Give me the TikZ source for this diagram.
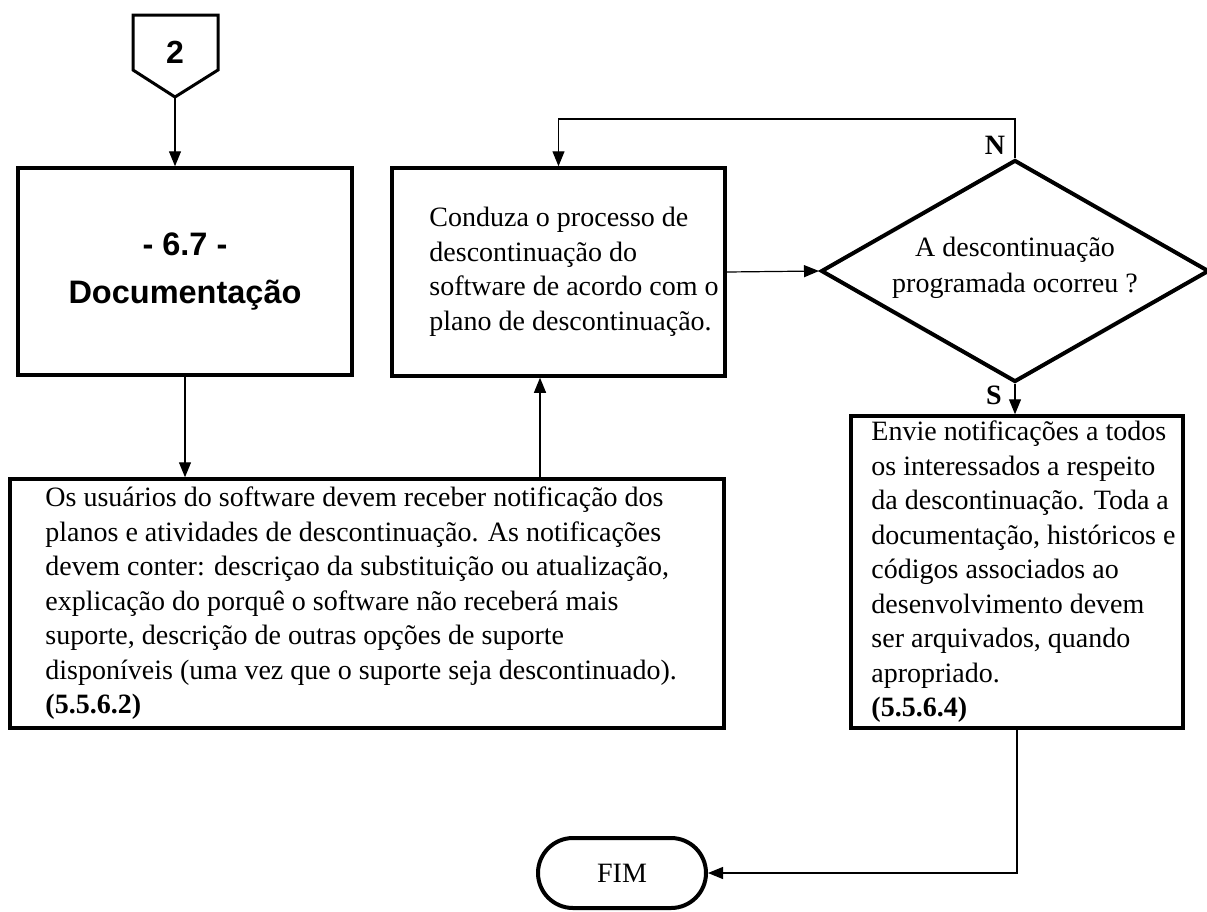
\documentclass[tikz,border=0pt]{standalone}
\usepackage{fontspec}
\setmainfont{Liberation Serif}
\newfontfamily\arialfont{Liberation Sans}
\usetikzlibrary{arrows.meta,shapes.geometric,calc}

\tikzset{
  box/.style={draw, line width=3.5pt, rectangle, inner sep=0pt},
  body/.style={inner sep=0pt, align=left, font=\fontsize{28}{34.5}\selectfont},
  lbl/.style={inner sep=0pt, font=\fontsize{28}{33}\selectfont\bfseries},
  conn/.style={line width=1.2pt, -{Triangle[length=15pt,width=12pt]}},
  decision/.style={draw, diamond, line width=4pt, inner sep=0pt, minimum width=388pt, minimum height=222pt},
  terminal/.style={draw, line width=4pt, rectangle, rounded corners=35pt, minimum width=168pt, minimum height=70pt, inner sep=0pt, font=\fontsize{28}{33}\selectfont}
}

\begin{document}
\begin{tikzpicture}[x=1pt,y=-1pt]
\useasboundingbox (0,0) rectangle (1207,911);

% off-page connector "2"
\coordinate (ptip) at (175,97);
\draw[line width=3pt, line join=miter] (133,15) -- (218,15) -- (218,70) -- (ptip) -- (133,70) -- cycle;
\node[inner sep=0pt, font=\arialfont\fontsize{32}{36}\selectfont\bfseries] (two) at (175,52) {2};

% process boxes
\node[box, minimum width=334pt, minimum height=207pt] (doc) at (185,271.5) {};
\node[inner sep=0pt, align=center, font=\arialfont\fontsize{32.5}{48}\selectfont\bfseries] (docT) at (doc.center) {- 6.7 -\\Documentação};

\node[box, minimum width=333pt, minimum height=208pt] (conduza) at (558.5,272) {};
\node[body, anchor=west] (conduzaT) at ([xshift=39pt]conduza.west) {Conduza o processo de\\descontinuação do\\software de acordo com o\\plano de descontinuação.};

\node[box, minimum width=714pt, minimum height=249pt] (users) at (367,603.5) {};
\node[body, anchor=west] (usersT) at ([xshift=37pt]users.west) {Os usuários do software devem receber notificação dos\\planos e atividades de descontinuação. As notificações\\devem conter: descriçao da substituição ou atualização,\\explicação do porquê o software não receberá mais\\suporte, descrição de outras opções de suporte\\disponíveis (uma vez que o suporte seja descontinuado).\\\textbf{(5.5.6.2)}};

\node[box, minimum width=332pt, minimum height=312pt] (notify) at (1017,572) {};
\node[body, anchor=west] (notifyT) at ([xshift=22pt]notify.west) {Envie notificações a todos\\os interessados a respeito\\da descontinuação. Toda a\\documentação, históricos e\\códigos associados ao\\desenvolvimento devem\\ser arquivados, quando\\apropriado.\\\textbf{(5.5.6.4)}};

% decision
\node[decision] (dec) at (1015,271) {};
\node[body, align=center, font=\fontsize{28}{36}\selectfont] (decT) at (1015,268) {A descontinuação\\programada ocorreu ?};

% terminal
\node[terminal] (fim) at (622,873) {FIM};

% connectors
\draw[conn] (ptip) -- (ptip |- doc.north);
\draw[conn] (doc.south) -- (doc.south |- users.north);
\draw[conn] ([xshift=-18.5pt]conduza.south |- users.north) -- ([xshift=-18.5pt]conduza.south);
\draw[conn] (conduza.east) -- (dec.west);
\draw[conn] (dec.north) -- (dec.north |- 0,119) -| (conduza.north);
\draw[conn] (dec.south) -- (dec.south |- notify.north);
\draw[conn] (notify.south) |- (fim.east);

% branch labels
\node[lbl] (lN) at (995,145) {N};
\node[lbl] (lS) at (994,395) {S};
\end{tikzpicture}
\end{document}
